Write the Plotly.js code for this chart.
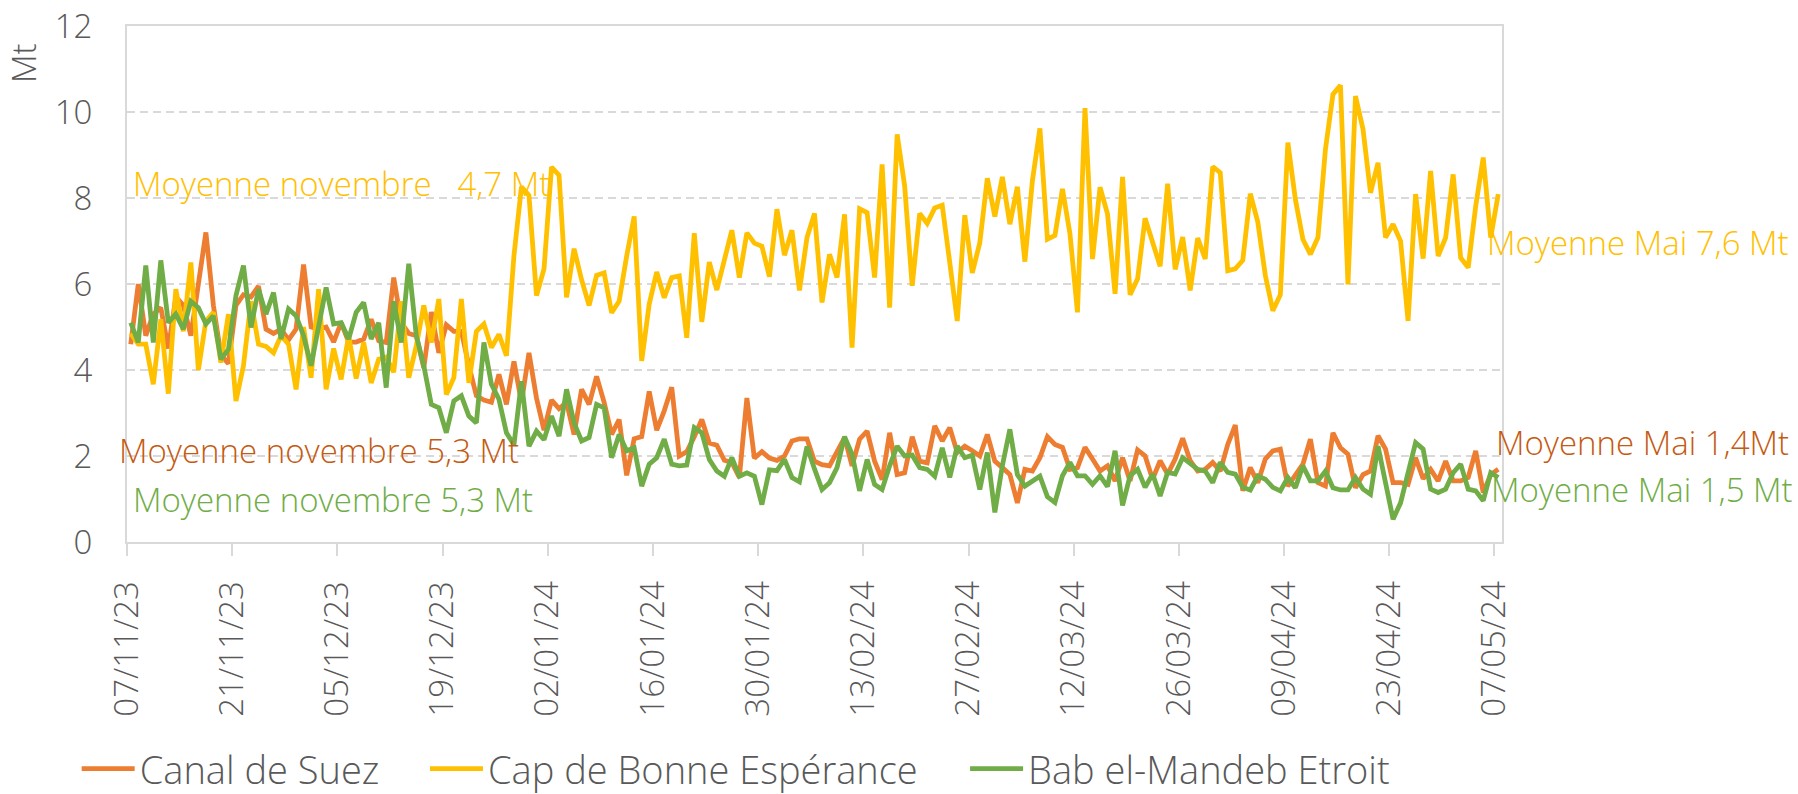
<!DOCTYPE html>
<html>
<head>
<meta charset="utf-8">
<script src="https://cdn.plot.ly/plotly-3.0.1.min.js"></script>
<style>
  html, body { margin: 0; padding: 0; background: #ffffff; }
  #chart { width: 1798px; height: 794px; }
</style>
</head>
<body>
<div id="chart"></div>
<script>
// ---- Data (daily, 07/11/2023 -> 07/05/2024) ----
const startDate = '2023-11-07';
const nDays = 183;

const seriesNames = ['Canal de Suez', 'Cap de Bonne Espérance', 'Bab el-Mandeb Etroit'];

const canalSuez = [
  4.6, 6.0, 4.8, 5.3, 5.45, 4.5, 5.7, 5.5, 4.8, 6.0,
  7.2, 5.5, 4.35, 4.15, 5.5, 5.75, 5.7, 5.95, 4.95, 4.85,
  4.95, 4.7, 4.95, 6.45, 5.0, 4.95, 5.0, 4.65, 5.1, 4.65,
  4.65, 4.72, 5.18, 4.68, 4.64, 6.15, 5.1, 4.85, 4.8, 4.05,
  5.35, 4.4, 5.05, 4.9, 4.9, 4.1, 3.4, 3.3, 3.25, 3.9,
  3.2, 4.2, 3.25, 4.4, 3.35, 2.6, 3.3, 3.1, 3.25, 2.5,
  3.55, 3.2, 3.85, 3.25, 2.5, 2.85, 1.55, 2.4, 2.45, 3.5,
  2.6, 3.05, 3.6, 2.0, 2.1, 2.45, 2.85, 2.3, 2.25, 1.9,
  1.85, 1.5, 3.35, 1.95, 2.1, 1.95, 1.9, 2.0, 2.35, 2.4,
  2.4, 1.88, 1.8, 1.77, 2.08, 2.43, 1.77, 2.39, 2.58, 1.88,
  1.45, 2.54, 1.57, 1.61, 2.45, 1.88, 1.84, 2.7, 2.35, 2.66,
  2.08, 2.23, 2.12, 2.0, 2.5, 1.88, 1.73, 1.57, 0.91, 1.69,
  1.65, 1.96, 2.45, 2.27, 2.2, 1.69, 1.73, 2.2, 1.93, 1.65,
  1.77, 1.42, 1.96, 1.42, 2.14, 2.0, 1.46, 1.89, 1.58, 1.93,
  2.41, 1.89, 1.65, 1.69, 1.85, 1.65, 2.27, 2.72, 1.19, 1.73,
  1.38, 1.93, 2.12, 2.16, 1.3, 1.57, 1.81, 2.39, 1.38, 1.3,
  2.54, 2.19, 2.04, 1.26, 1.57, 1.65, 2.47, 2.16, 1.38, 1.38,
  1.34, 1.96, 1.47, 1.69, 1.42, 1.88, 1.42, 1.42, 1.5, 2.12,
  1.15, 1.57, 1.69
];

const capBonneEsperance = [
  4.85, 4.6, 4.6, 3.67, 5.18, 3.45, 5.88, 4.9, 6.5, 4.0,
  5.14, 5.34, 4.17, 5.3, 3.28, 4.1, 5.6, 4.6, 4.55, 4.4,
  4.8, 4.6, 3.55, 5.0, 3.82, 5.88, 3.55, 4.5, 3.78, 4.8,
  3.8, 4.64, 3.7, 4.25, 4.3, 3.95, 5.6, 3.82, 4.56, 5.5,
  4.64, 5.65, 3.43, 3.82, 5.65, 3.7, 4.9, 5.07, 4.52, 4.83,
  4.33, 6.66, 8.26, 8.06, 5.73, 6.35, 8.72, 8.53, 5.69, 6.82,
  6.1, 5.5, 6.2, 6.26, 5.33, 5.6, 6.65, 7.57, 4.21, 5.53,
  6.28, 5.68, 6.15, 6.19, 4.75, 7.18, 5.12, 6.51, 5.86, 6.57,
  7.25, 6.15, 7.19, 6.95, 6.88, 6.17, 7.74, 6.67, 7.25, 5.85,
  7.08, 7.64, 5.57, 6.69, 6.15, 7.62, 4.52, 7.75, 7.66, 6.15,
  8.78, 5.45, 9.48, 8.28, 5.96, 7.64, 7.41, 7.77, 7.83, 6.5,
  5.14, 7.6, 6.26, 6.96, 8.46, 7.57, 8.49, 7.39, 8.26, 6.52,
  8.4, 9.62, 7.04, 7.13, 8.21, 7.17, 5.34, 10.09, 6.58, 8.25,
  7.63, 5.77, 8.49, 5.75, 6.12, 7.53, 6.97, 6.41, 8.33, 6.34,
  7.09, 5.85, 7.07, 6.58, 8.73, 8.59, 6.31, 6.35, 6.55, 8.1,
  7.44, 6.2, 5.38, 5.75, 9.29, 7.97, 7.04, 6.69, 7.08, 9.13,
  10.41, 10.62, 5.99, 10.37, 9.6, 8.12, 8.82, 7.08, 7.39, 7.0,
  5.14, 8.09, 6.59, 8.63, 6.65, 7.08, 8.55, 6.61, 6.38, 7.81,
  8.94, 7.08, 8.09
];

const babElMandeb = [
  5.1, 4.64, 6.43, 4.64, 6.55, 5.1, 5.3, 4.95, 5.6, 5.45,
  5.07, 5.26, 4.25, 4.48, 5.73, 6.43, 4.99, 5.88, 5.3, 5.8,
  4.72, 5.42, 5.26, 4.8, 4.1, 5.03, 5.92, 5.07, 5.1, 4.72,
  5.34, 5.57, 4.72, 5.1, 3.59, 5.6, 4.64, 6.47, 4.8, 4.1,
  3.2, 3.12, 2.54, 3.28, 3.4, 2.93, 2.77, 4.64, 3.67, 3.32,
  2.54, 2.26, 3.74, 2.23, 2.58, 2.38, 2.93, 2.46, 3.55, 2.77,
  2.35, 2.43, 3.2, 3.12, 1.96, 2.5, 2.12, 2.19, 1.3, 1.81,
  1.96, 2.39, 1.81, 1.77, 1.79, 2.66, 2.54, 1.92, 1.65, 1.53,
  1.96, 1.53, 1.61, 1.53, 0.87, 1.68, 1.66, 1.92, 1.5, 1.4,
  2.22, 1.7, 1.22, 1.38, 1.73, 2.45, 2.04, 1.19, 1.92, 1.34,
  1.22, 1.77, 2.23, 2.0, 2.02, 1.73, 1.69, 1.53, 2.19, 1.5,
  2.23, 1.96, 2.02, 1.22, 2.08, 0.69, 1.77, 2.62, 1.57, 1.3,
  1.41, 1.53, 1.05, 0.92, 1.54, 1.85, 1.54, 1.54, 1.34, 1.54,
  1.29, 2.12, 0.85, 1.54, 1.69, 1.27, 1.58, 1.07, 1.62, 1.58,
  1.96, 1.81, 1.69, 1.65, 1.38, 1.85, 1.62, 1.58, 1.27, 1.21,
  1.54, 1.46, 1.27, 1.19, 1.5, 1.26, 1.77, 1.42, 1.42, 1.65,
  1.26, 1.21, 1.21, 1.5, 1.23, 1.11, 2.23, 1.38, 0.53, 0.91,
  1.61, 2.31, 2.16, 1.23, 1.15, 1.23, 1.61, 1.81, 1.23, 1.19,
  0.96, 1.61, 1.5
];

const yTicks = [0, 2, 4, 6, 8, 10, 12];

const avgLabels = [
  'Moyenne novembre \u00a0\u00a04,7 Mt',
  'Moyenne novembre 5,3 Mt',
  'Moyenne novembre 5,3 Mt',
  'Moyenne Mai 7,6 Mt',
  'Moyenne Mai 1,4Mt',
  'Moyenne Mai 1,5 Mt'
];

// Daily dates (category axis values)
const dates = [];
for (let i = 0; i < nDays; i++) {
  const d = new Date(Date.UTC(2023, 10, 7 + i));
  dates.push(d.toISOString().slice(0, 10));
}

const COL_ORANGE = '#ED7D31';
const COL_ORANGE_TXT = '#C55A11';
const COL_YELLOW = '#FFC000';
const COL_GREEN = '#70AD47';
const GRID = '#D9D9D9';
const TXT = '#595959';
const FONT = '"Open Sans", Lato, sans-serif';

function lineTrace(name, y, color, legendId) {
  return {
    type: 'scatter', mode: 'lines', name: name,
    x: dates, y: y, legend: legendId,
    xperiod: 86400000, xperiodalignment: 'middle',
    line: { color: color, width: 4.8, shape: 'linear' },
    hoverinfo: 'skip'
  };
}

const traces = [
  lineTrace(seriesNames[0], canalSuez, COL_ORANGE, 'legend'),
  lineTrace(seriesNames[1], capBonneEsperance, COL_YELLOW, 'legend2'),
  lineTrace(seriesNames[2], babElMandeb, COL_GREEN, 'legend3')
];

function ann(text, x, y, color) {
  return {
    text: text, xref: 'paper', yref: 'paper', x: x, y: y,
    xanchor: 'left', yanchor: 'middle', showarrow: false,
    font: { family: FONT, size: 33, color: color, weight: 300 }
  };
}

function legendBox(x) {
  return {
    orientation: 'h', x: x, xanchor: 'left', y: -0.4399, yanchor: 'middle',
    font: { family: FONT, size: 38, color: TXT, weight: 300 },
    bgcolor: 'rgba(0,0,0,0)', borderwidth: 0, itemwidth: 53
  };
}

const layout = {
  width: 1798, height: 794,
  paper_bgcolor: '#ffffff', plot_bgcolor: '#ffffff',
  margin: { l: 127, r: 296, t: 26, b: 252, pad: 0, autoexpand: false },
  font: { family: FONT, size: 33, color: TXT, weight: 300 },
  showlegend: true,
  legend: legendBox(-0.0366),
  legend2: legendBox(0.2167),
  legend3: legendBox(0.6095),
  xaxis: {
    type: 'date', automargin: false,
    range: ['2023-11-07', '2024-05-08'],
    tick0: startDate, dtick: 14 * 86400000,
    tickformat: '%d/%m/%y', tickangle: -90,
    ticks: 'outside', ticklen: 12, tickwidth: 2, tickcolor: GRID,
    showline: true, linecolor: GRID, linewidth: 2, mirror: true,
    showgrid: false, zeroline: false,
    tickfont: { family: FONT, size: 33, color: TXT, weight: 300 },
    ticklabelstandoff: 12
  },
  yaxis: {
    automargin: false,
    range: [0, 12], tickvals: yTicks, ticktext: yTicks.map(String),
    showline: true, linecolor: GRID, linewidth: 2, mirror: true,
    showgrid: true, gridcolor: GRID, gridwidth: 1.5, griddash: '8px,5px',
    zeroline: false, ticks: '',
    tickfont: { family: FONT, size: 33, color: TXT, weight: 300 },
    ticklabelstandoff: 26
  },
  annotations: [
    { text: 'Mt', xref: 'paper', yref: 'paper', x: (23 - 127) / 1375, y: (542 - 63) / 516,
      xanchor: 'center', yanchor: 'middle', textangle: -90, showarrow: false,
      font: { family: FONT, size: 33, color: TXT, weight: 300 } },
    ann(avgLabels[0], 0.0029, 0.6948, COL_YELLOW),
    ann(avgLabels[1], -0.0073, 0.1764, COL_ORANGE_TXT),
    ann(avgLabels[2], 0.0029, 0.0814, COL_GREEN),
    ann(avgLabels[3], 0.9876, 0.5795, COL_YELLOW),
    ann(avgLabels[4], 0.9942, 0.1919, COL_ORANGE_TXT),
    ann(avgLabels[5], 0.9905, 0.1008, COL_GREEN)
  ]
};

Plotly.newPlot('chart', traces, layout, { displayModeBar: false, staticPlot: true });
</script>
</body>
</html>
